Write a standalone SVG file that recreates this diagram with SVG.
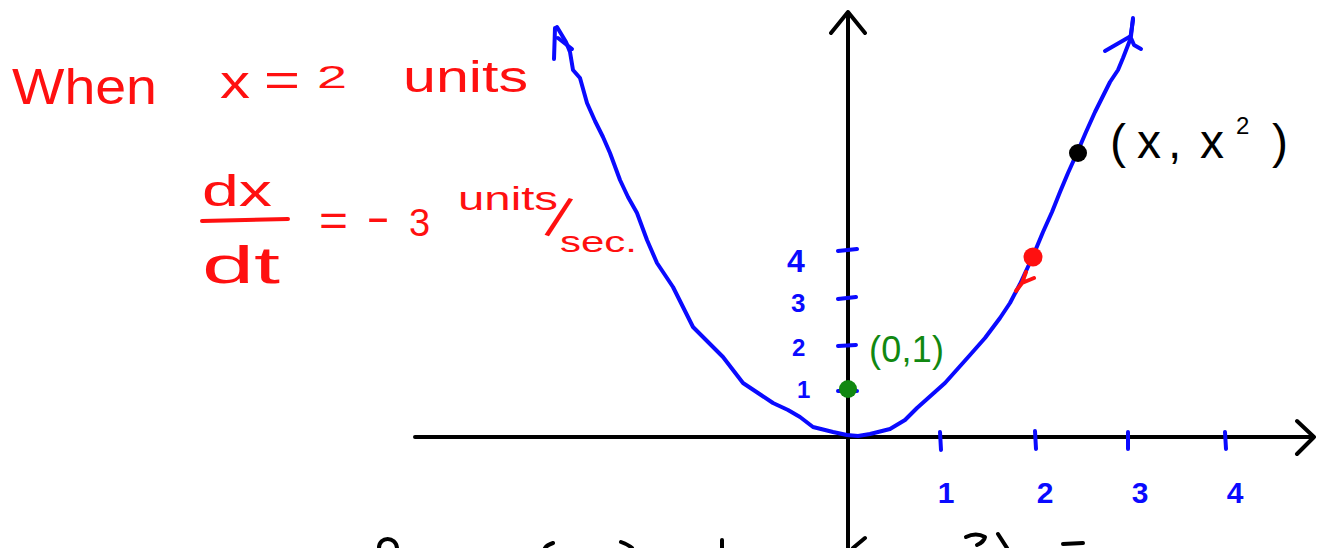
<svg xmlns="http://www.w3.org/2000/svg" width="1328" height="548" viewBox="0 0 1328 548">
<style>
.ink{fill:none;stroke-linecap:round;stroke-linejoin:round}
.axis{stroke:#000;stroke-width:4}
.blue{stroke:#0a0aff;stroke-width:4}
.red{fill:#ff1010;font-family:"Liberation Sans",Arial,sans-serif}
.bnum{fill:#0a0aff;font-family:"Liberation Sans",Arial,sans-serif;font-weight:bold}
.grn{fill:#118811;font-family:"Liberation Sans",Arial,sans-serif}
.blk{fill:#000;font-family:"Liberation Sans",Arial,sans-serif}
</style>
<rect width="1328" height="548" fill="#fff"/>
<g id="connectors">
  <g id="axes" class="ink axis">
    <path d="M415,437 L1313,437 M1297,421 L1314,437 L1297,454"/>
    <path d="M848,548 L848,12 M831,33 L848,12 L865,33"/>
  </g>
  <g id="parabola" class="ink blue">
    <path d="M557,27 L566,42 L570,52 L573,70 L580,78 L587,103 L595,121 L603,137 L610,153 L620,180 L628,197 L637,213 L647,240 L657,263 L673,287 L683,307 L693,327 L708,342 L723,357 L743,383 L758,393 L773,403 L788,410 L800,417 L813,427 L833,432 L847,435 L858,436 L870,434 L890,429 L905,420 L917,408 L945,383 L970,355 L985,338 L1000,318 L1010,303 L1020,284 L1033,256 L1043,232 L1052,212 L1060,192 L1068,173 L1077,153 L1086,132 L1095,112 L1110,82 L1118,70 L1123,58 L1130,40 L1133,20"/>
    <path d="M554,59 L555,28 M558,38 L572,49"/>
    <path d="M1105,51 L1131,36 L1133,18 M1131,38 L1134,45 L1141,49"/>
  </g>
  <g id="ticks" class="ink blue">
    <path d="M940,432 L941,450 M1035,431 L1036,449 M1128,432 L1128,449 M1225,432 L1226,449"/>
    <path d="M838,251 L857,249 M838,299 L856,297 M838,346 L856,345 M838,391 L857,391"/>
  </g>
  <g id="bottom-fragments" class="ink axis">
    <path d="M379,548 C379,536 396,536 397,548"/>
    <path d="M553,543 Q547,545 545,548"/>
    <path d="M621,542 Q629,545 632,548"/>
    <path d="M722,540 L722,548"/>
    <path d="M865,538 L853,548"/>
    <path d="M966,537 Q976,532 985,537 Q984,542 977,545"/>
    <path d="M998,534 L1007,548"/>
    <path d="M1063,544 L1083,543"/>
  </g>
</g>
<g id="given-x">
  <text class="red" x="12" y="104" font-size="50" textLength="145" lengthAdjust="spacingAndGlyphs">When</text>
  <text class="red" x="220" y="98" font-size="46" textLength="30" lengthAdjust="spacingAndGlyphs">x</text>
  <text class="red" x="264" y="96" font-size="46" textLength="36" lengthAdjust="spacingAndGlyphs">=</text>
  <text class="red" x="317" y="88" font-size="32" textLength="30" lengthAdjust="spacingAndGlyphs">2</text>
  <text class="red" x="403" y="92" font-size="44" textLength="125" lengthAdjust="spacingAndGlyphs">units</text>
</g>
<g id="given-rate">
  <text class="red" x="202" y="206" font-size="44" textLength="70" lengthAdjust="spacingAndGlyphs">dx</text>
  <path class="ink" stroke="#ff1010" stroke-width="4" d="M202,221 L288,219"/>
  <text class="red" x="202" y="283" font-size="52" textLength="78" lengthAdjust="spacingAndGlyphs">dt</text>
  <text class="red" x="319" y="236" font-size="44" textLength="29" lengthAdjust="spacingAndGlyphs">=</text>
  <text class="red" x="366" y="232" font-size="44" textLength="24" lengthAdjust="spacingAndGlyphs">-</text>
  <text class="red" x="409" y="236" font-size="38">3</text>
  <text class="red" x="458" y="210" font-size="34" textLength="100" lengthAdjust="spacingAndGlyphs">units</text>
  <text class="red" x="551" y="240" font-size="58" transform="rotate(18 566 217)">/</text>
  <text class="red" x="560" y="252" font-size="30" textLength="77" lengthAdjust="spacingAndGlyphs">sec.</text>
</g>
<g id="y-labels">
  <text class="bnum" x="787" y="272" font-size="32">4</text>
  <text class="bnum" x="791" y="312" font-size="26">3</text>
  <text class="bnum" x="792" y="356" font-size="24">2</text>
  <text class="bnum" x="797" y="398" font-size="24">1</text>
</g>
<g id="x-labels" text-anchor="middle">
  <text class="bnum" x="946" y="503" font-size="30">1</text>
  <text class="bnum" x="1045" y="503" font-size="30">2</text>
  <text class="bnum" x="1140" y="503" font-size="30">3</text>
  <text class="bnum" x="1235" y="503" font-size="30">4</text>
</g>
<g id="point-start">
  <circle cx="848" cy="389" r="9" fill="#118811"/>
  <text class="grn" x="869" y="362" font-size="36" textLength="75">(0,1)</text>
</g>
<g id="point-moving">
  <circle cx="1033" cy="257" r="9.5" fill="#ff1010"/>
  <path class="ink" stroke="#ff1010" stroke-width="4" d="M1026,272 L1022,283 L1016,291 M1022,283 L1034,278"/>
</g>
<g id="point-general">
  <circle cx="1078" cy="153" r="9" fill="#000"/>
  <text class="blk" y="158" font-size="48"><tspan x="1110">(</tspan><tspan x="1137">x</tspan><tspan x="1168">,</tspan><tspan x="1200">x</tspan><tspan x="1236" y="134" font-size="24">2</tspan><tspan x="1272" y="158">)</tspan></text>
</g>
</svg>
